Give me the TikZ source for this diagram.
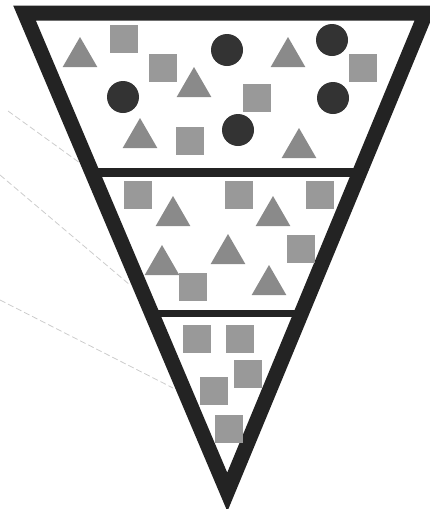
\documentclass[tikz,border=0pt]{standalone}
\usepackage{tikz}
\usetikzlibrary{shapes.geometric}

\definecolor{inkdark}{HTML}{232323}
\definecolor{dotgray}{HTML}{333333}
\definecolor{trigray}{HTML}{8A8A8A}
\definecolor{sqgray}{HTML}{999999}

\begin{document}
\begin{tikzpicture}[
    x=1pt, y=-1pt,
    sq/.style={rectangle, fill=sqgray, minimum size=28pt, inner sep=0pt, outer sep=0pt},
    tri/.style={regular polygon, regular polygon sides=3, fill=trigray, minimum size=40pt, inner sep=0pt, outer sep=0pt},
    dot/.style={circle, fill=dotgray, minimum size=32pt, inner sep=0pt, outer sep=0pt},
    wall/.style={draw=inkdark, line width=15pt, line join=miter},
    shelf/.style={draw=inkdark},
    leader/.style={draw=gray!40, line width=0.8pt, dash pattern=on 6pt off 3pt}
]
\useasboundingbox (0,0) rectangle (429,509);

% funnel outline
\coordinate (tl) at (24.5,13);
\coordinate (tr) at (425.8,13);
\coordinate (tip) at (227.3,492);
\draw[wall] (tl) -- (tr) -- (tip) -- cycle;

% section dividers
\coordinate (d1l) at (91.7,172);
\coordinate (d1r) at (359.9,172);
\coordinate (d2l) at (151.4,313);
\coordinate (d2r) at (301.6,313);
\draw[shelf, line width=9pt] (d1l) -- (d1r);
\draw[shelf, line width=7pt] (d2l) -- (d2r);

% top section
\node[tri] (a1) at (80,57) {};
\node[sq]  (a2) at (123.5,39) {};
\node[sq]  (a3) at (162.5,67.5) {};
\node[dot] (a4) at (227,50) {};
\node[tri] (a5) at (288,57) {};
\node[dot] (a6) at (332,40) {};
\node[sq]  (a7) at (362.5,67.5) {};
\node[dot] (a8) at (123,97) {};
\node[tri] (a9) at (194,87) {};
\node[sq]  (a10) at (256.5,97.5) {};
\node[dot] (a11) at (333,98) {};
\node[tri] (a12) at (140,138) {};
\node[sq]  (a13) at (190,141) {};
\node[dot] (a14) at (238,130) {};
\node[tri] (a15) at (299,148) {};

% middle section
\node[sq]  (b1) at (137.5,194.5) {};
\node[tri] (b2) at (173,216) {};
\node[sq]  (b3) at (239,194.5) {};
\node[tri] (b4) at (273,216) {};
\node[sq]  (b5) at (320,194.5) {};
\node[sq]  (b6) at (300.5,249) {};
\node[tri] (b7) at (228,254) {};
\node[tri] (b8) at (162,265) {};
\node[sq]  (b9) at (193,287) {};
\node[tri] (b10) at (269,285) {};

% bottom section
\node[sq] (c1) at (197,339) {};
\node[sq] (c2) at (240,339) {};
\node[sq] (c3) at (248,373.5) {};
\node[sq] (c4) at (214,391) {};
\node[sq] (c5) at (229,429) {};

% leader lines
\coordinate (l1a) at (8,111);
\coordinate (l1b) at (80,163);
\coordinate (l2a) at (0,175);
\coordinate (l2b) at (130,285);
\coordinate (l3a) at (0,300);
\coordinate (l3b) at (173,388);
\draw[leader] (l1a) -- (l1b);
\draw[leader] (l2a) -- (l2b);
\draw[leader] (l3a) -- (l3b);
\end{tikzpicture}
\end{document}
